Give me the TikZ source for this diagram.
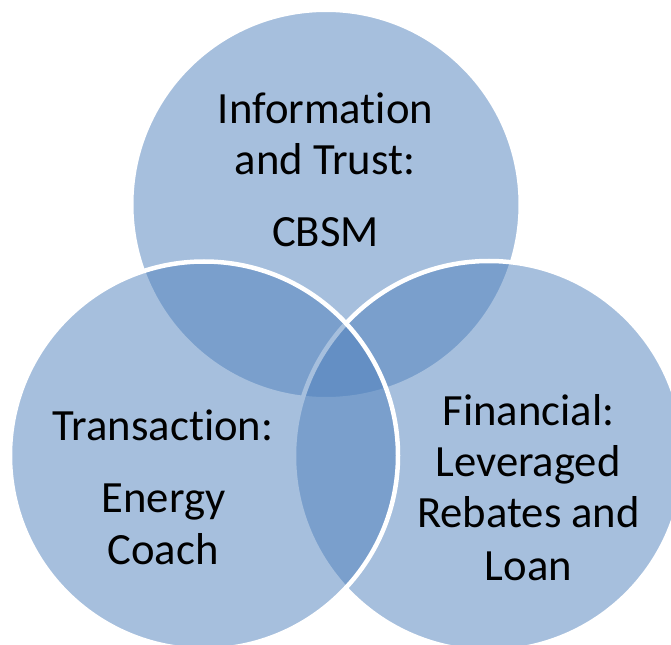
\documentclass[tikz,border=0pt]{standalone}
\usepackage{fontspec}
\setmainfont{Carlito}[RawFeature={-liga}]
\definecolor{vennblue}{RGB}{79,129,189}
\begin{document}
\begin{tikzpicture}[x=0.75pt,y=-0.75pt,
  venn/.style={fill=vennblue,fill opacity=0.5,draw=white,draw opacity=1,line width=3.375pt},
  lbl/.style={anchor=base,inner sep=0pt,text=black,font=\fontsize{33.5}{38}\selectfont}]
\useasboundingbox (0,0) rectangle (671,645);
\fill[white] (0,0) rectangle (671,645);
% circles: top, right, left (drawing order matters for the white borders)
\draw[venn] (326,204.5) circle [radius=146.06pt];
\draw[venn] (489,456) circle [radius=146.25pt];
\draw[venn] (204,455.5) circle [radius=145.5pt];
% top circle text
\node[lbl] (t1) at (325.5,124) {Information};
\node[lbl] (t2) at (325,175) {and Trust:};
\node[lbl] (t3) at (325.5,247) {CBSM};
% left circle text
\node[lbl] (l1) at (163,440.5) {Transaction:};
\node[lbl] (l2) at (163.5,512.5) {Energy};
\node[lbl] (l3) at (163,564) {Coach};
% right circle text
\node[lbl] (r1) at (528.5,425) {Financial:};
\node[lbl] (r2) at (528,476) {Leveraged};
\node[lbl] (r3) at (528.5,527) {Rebates and};
\node[lbl] (r4) at (528.5,580) {Loan};
\end{tikzpicture}
\end{document}
